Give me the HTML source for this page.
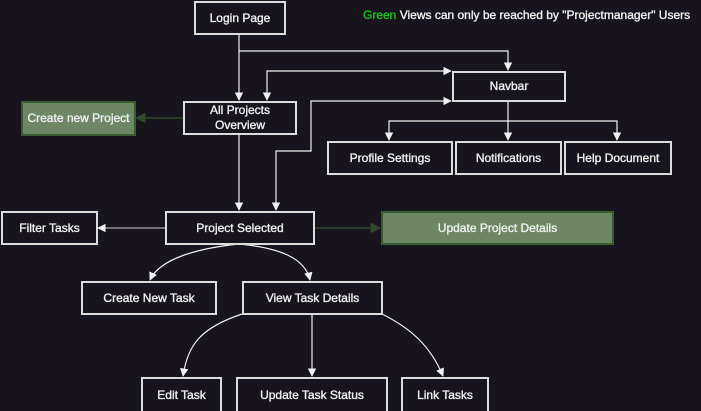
<!DOCTYPE html>
<html><head><style>
body{margin:0;background:#18141d;}
.w{position:relative;width:701px;height:411px;overflow:hidden;background:#18141d;font-family:"Liberation Sans",sans-serif;font-size:12px;color:#f0f0f0;-webkit-text-stroke:0.35px #f0f0f0;}
.b{position:absolute;box-sizing:border-box;border:2px solid #dcdcdc;display:flex;align-items:center;justify-content:center;text-align:center;line-height:15px;background:#18141d;}
.g{background:#6d8764;border-color:#3a5a30;}
svg{position:absolute;left:0;top:0;}
</style></head><body><div class="w">
<svg width="701" height="411">
<defs>
<marker id="a" viewBox="0 0 10 10" refX="9" refY="5" markerWidth="7" markerHeight="7" orient="auto"><path d="M0,0L10,5L0,10z" fill="#f0f0f0"/></marker>
<marker id="ga" viewBox="0 0 10 10" refX="9" refY="5" markerWidth="7" markerHeight="7" orient="auto"><path d="M0,0L10,5L0,10z" fill="#2f4a28"/></marker>
</defs>
<g fill="none" stroke="#f0f0f0" stroke-width="1.2">
<path d="M239,34V100" marker-end="url(#a)"/>
<path d="M239,51H508V70" marker-end="url(#a)"/>
<path d="M350,71H451" marker-end="url(#a)"/>
<path d="M350,71H267V100" marker-end="url(#a)"/>
<path d="M380,101H451" marker-end="url(#a)"/>
<path d="M380,101H311V151H276V210" marker-end="url(#a)"/>
<path d="M239,134V210" marker-end="url(#a)"/>
<path d="M508,101V140" marker-end="url(#a)"/>
<path d="M508,121H389V140" marker-end="url(#a)"/>
<path d="M508,121H617V140" marker-end="url(#a)"/>
<path d="M165,228H98" stroke="#aaa" marker-end="url(#a)"/>
<path d="M239,244C200,248 160,258 150,280" marker-end="url(#a)"/>
<path d="M239,244C280,248 305,258 310,280" marker-end="url(#a)"/>
<path d="M242,314C200,328 188,345 183,376" marker-end="url(#a)"/>
<path d="M312,314V376" marker-end="url(#a)"/>
<path d="M382,314C410,328 430,345 443,376" marker-end="url(#a)"/>
</g>
<g fill="none" stroke="#2f4a28" stroke-width="1.5">
<path d="M183,118H136" marker-end="url(#ga)"/>
<path d="M314,228H380" marker-end="url(#ga)"/>
</g>
</svg>
<div class="b" style="left:194px;top:1px;width:92px;height:34px">Login Page</div>
<div class="b" style="left:183px;top:101px;width:114px;height:34px">All Projects<br>Overview</div>
<div class="b g" style="left:21px;top:101px;width:115px;height:35px">Create new Project</div>
<div class="b" style="left:452px;top:71px;width:114px;height:31px">Navbar</div>
<div class="b" style="left:327px;top:141px;width:126px;height:34px">Profile Settings</div>
<div class="b" style="left:455px;top:141px;width:107px;height:34px">Notifications</div>
<div class="b" style="left:564px;top:141px;width:108px;height:34px">Help Document</div>
<div class="b" style="left:1px;top:211px;width:97px;height:34px">Filter Tasks</div>
<div class="b" style="left:165px;top:211px;width:150px;height:34px">Project Selected</div>
<div class="b g" style="left:381px;top:211px;width:233px;height:34px">Update Project Details</div>
<div class="b" style="left:81px;top:281px;width:136px;height:34px">Create New Task</div>
<div class="b" style="left:242px;top:281px;width:141px;height:34px">View Task Details</div>
<div class="b" style="left:141px;top:377px;width:81px;height:36px">Edit Task</div>
<div class="b" style="left:236px;top:377px;width:152px;height:36px">Update Task Status</div>
<div class="b" style="left:401px;top:377px;width:88px;height:36px">Link Tasks</div>
<div style="position:absolute;left:363px;top:8px;white-space:nowrap"><span style="color:#19c419;-webkit-text-stroke:0.35px #19c419">Green</span> Views can only be reached by "Projectmanager" Users</div>
</div></body></html>
